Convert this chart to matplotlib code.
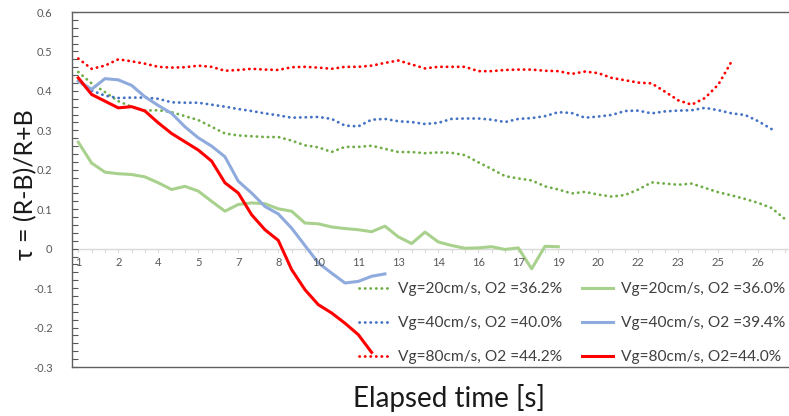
import numpy as np
import matplotlib.pyplot as plt

# tau = (R-B)/(R+B), one value every 0.5 s starting at t = 1 s
g20_dot = [0.448, 0.419, 0.397, 0.374, 0.360, 0.350, 0.351, 0.346, 0.336, 0.326,
           0.309, 0.292, 0.287, 0.285, 0.283, 0.283, 0.274, 0.262, 0.257, 0.245,
           0.258, 0.258, 0.261, 0.253, 0.245, 0.245, 0.242, 0.244, 0.243, 0.237,
           0.219, 0.202, 0.184, 0.178, 0.173, 0.158, 0.150, 0.140, 0.144, 0.137,
           0.132, 0.136, 0.150, 0.168, 0.165, 0.162, 0.165, 0.154, 0.143, 0.135,
           0.126, 0.116, 0.103, 0.075]
g20_solid = [0.270, 0.217, 0.194, 0.190, 0.188, 0.182, 0.167, 0.150, 0.158, 0.146,
             0.120, 0.095, 0.112, 0.116, 0.114, 0.101, 0.095, 0.065, 0.063, 0.055,
             0.051, 0.048, 0.043, 0.057, 0.030, 0.013, 0.042, 0.017, 0.008, 0.001,
             0.002, 0.005, -0.002, 0.002, -0.051, 0.006, 0.005]
b40_dot = [0.425, 0.401, 0.388, 0.382, 0.383, 0.383, 0.380, 0.371, 0.370, 0.370,
           0.365, 0.360, 0.354, 0.349, 0.343, 0.338, 0.332, 0.333, 0.334, 0.329,
           0.312, 0.310, 0.327, 0.329, 0.323, 0.321, 0.316, 0.319, 0.329, 0.330,
           0.330, 0.327, 0.321, 0.329, 0.331, 0.336, 0.346, 0.344, 0.332, 0.335,
           0.339, 0.349, 0.350, 0.343, 0.348, 0.350, 0.351, 0.357, 0.351, 0.343,
           0.339, 0.323, 0.303]
b40_solid = [0.425, 0.404, 0.431, 0.428, 0.414, 0.385, 0.363, 0.343, 0.309, 0.281,
             0.260, 0.233, 0.171, 0.141, 0.107, 0.088, 0.052, 0.008, -0.036, -0.062,
             -0.087, -0.083, -0.070, -0.064]
r80_dot = [0.482, 0.456, 0.464, 0.480, 0.475, 0.469, 0.461, 0.459, 0.460, 0.464,
           0.461, 0.451, 0.453, 0.456, 0.454, 0.453, 0.460, 0.461, 0.459, 0.456,
           0.461, 0.461, 0.464, 0.471, 0.477, 0.467, 0.457, 0.461, 0.461, 0.461,
           0.450, 0.450, 0.453, 0.454, 0.454, 0.451, 0.450, 0.443, 0.449, 0.445,
           0.433, 0.427, 0.421, 0.419, 0.398, 0.376, 0.365, 0.382, 0.416, 0.475]
r80_solid = [0.433, 0.391, 0.374, 0.357, 0.360, 0.349, 0.319, 0.292, 0.271, 0.250,
             0.222, 0.167, 0.141, 0.086, 0.048, 0.021, -0.053, -0.104, -0.142, -0.163,
             -0.189, -0.218, -0.263]

xtick_labels = ['1', '2', '4', '5', '7', '8', '10', '11', '13', '14',
                '16', '17', '19', '20', '22', '23', '25', '26']
n_cat = 54

labels_dot = ['Vg=20cm/s, O2 =36.2%', 'Vg=40cm/s, O2 =40.0%', 'Vg=80cm/s, O2 =44.2%']
labels_solid = ['Vg=20cm/s, O2 =36.0%', 'Vg=40cm/s, O2 =39.4%', 'Vg=80cm/s, O2=44.0%']

FONT = ['Lato', 'DejaVu Sans']
plt.rcParams['font.family'] = FONT

fig = plt.figure(figsize=(7.89, 4.16), dpi=100)
ax = fig.add_axes([72 / 789, 1 - 367 / 416, 1 - 72 / 789, (367 - 12) / 416])

dot = dict(linestyle=(0, (0.1, 1.9)), dash_capstyle='round', lw=2.0)
solid = dict(linestyle='-', lw=2.2, solid_joinstyle='round')

h1, = ax.plot(np.arange(len(g20_dot)), g20_dot, color='#70AD47', **dot)
h2, = ax.plot(np.arange(len(b40_dot)), b40_dot, color='#4472C4', **dot)
h3, = ax.plot(np.arange(len(r80_dot)), r80_dot, color='#FF0000', **dot)
h4, = ax.plot(np.arange(len(g20_solid)), g20_solid, color='#A9D18E', **solid)
h5, = ax.plot(np.arange(len(b40_solid)), b40_solid, color='#8FAADC', **solid)
h6, = ax.plot(np.arange(len(r80_solid)), r80_solid, color='#FF0000', **solid)

ax.set_xlim(-0.47, 53.3)
ax.set_ylim(-0.3, 0.6)

# category axis drawn along y = 0
ax.axhline(0, color='#d9d9d9', lw=1.0, zorder=0)
for i in range(n_cat):
    ax.plot([i, i], [0, -0.008], color='#d9d9d9', lw=0.8, zorder=0)
for i, lab in zip(range(0, n_cat, 3), xtick_labels):
    ax.text(i, -0.035, lab, ha='center', va='center', fontsize=8, color='#595959')
ax.set_xticks([])

ax.set_yticks(np.arange(-0.3, 0.61, 0.1))
ax.set_yticklabels(['-0.3', '-0.2', '-0.1', '0', '0.1', '0.2', '0.3', '0.4', '0.5', '0.6'])
ax.set_yticks(np.arange(-0.3, 0.61, 0.02), minor=True)
ax.tick_params(axis='y', which='both', direction='in', colors='#595959',
               labelsize=8, pad=14, length=4, width=0.8)

for s in ['left', 'top', 'bottom']:
    ax.spines[s].set_color('#606060')
    ax.spines[s].set_linewidth(1.0)
ax.spines['right'].set_visible(False)

fig.text(26 / 789, 1 - 185 / 416, 'τ = (R-B)/R+B', rotation=90, ha='center', va='center',
         fontsize=18, color='#1a1a1a')
fig.text(449 / 789, 1 - 398 / 416, 'Elapsed time [s]', ha='center', va='center',
         fontsize=20, color='#1a1a1a')

fig.legend([h1, h2, h3, h4, h5, h6], labels_dot + labels_solid, ncol=2,
           loc='upper left', bbox_to_anchor=(345 / 789, 1 - 268 / 416),
           frameon=False, fontsize=11.2, handlelength=1.95, handletextpad=0.55,
           columnspacing=1.3, labelspacing=1.3, labelcolor='#404040')

fig.savefig('out.png', dpi=100)
